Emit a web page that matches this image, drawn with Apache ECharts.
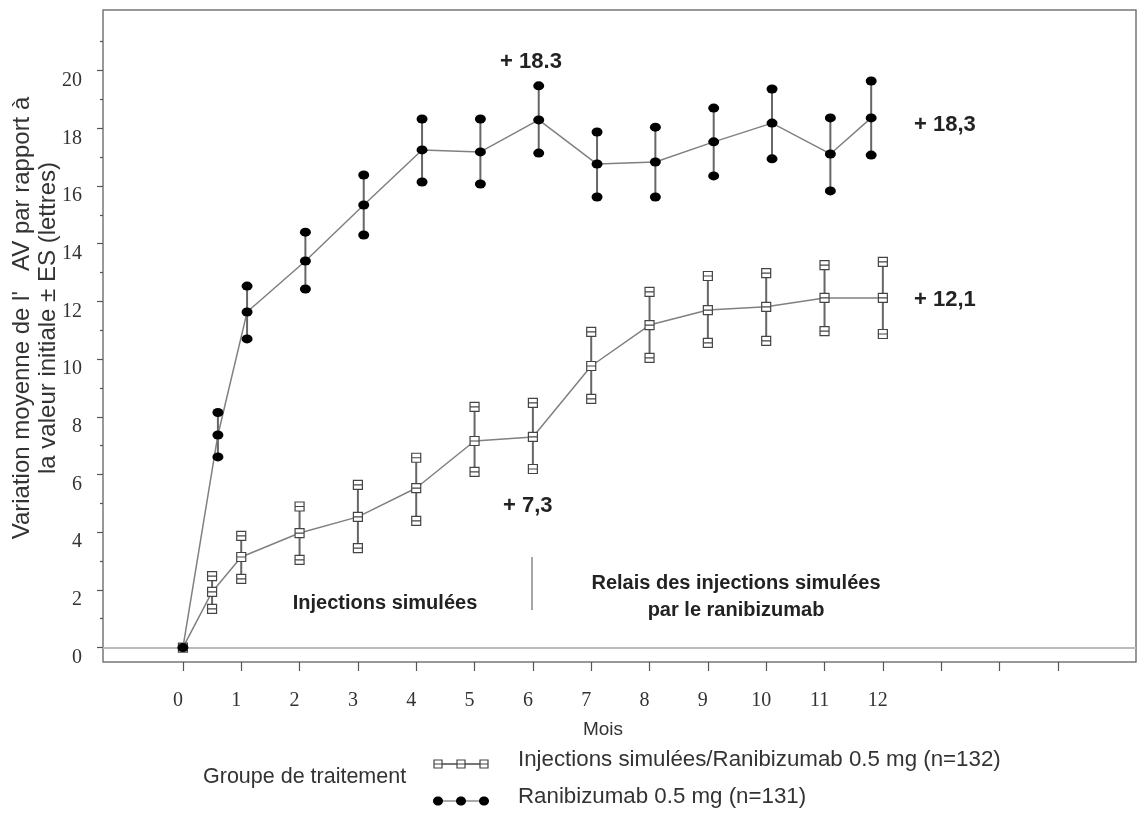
<!DOCTYPE html>
<html>
<head>
<meta charset="utf-8">
<script src="https://cdn.jsdelivr.net/npm/echarts@6/dist/echarts.min.js"></script>
<style>
html,body{margin:0;padding:0;background:#fff;}
#chart{width:1137px;height:813px;}
</style>
</head>
<body>
<div id="chart"></div>
<script>
// ---- data ----
const xTicks = [0,1,2,3,4,5,6,7,8,9,10,11,12,13,14,15];
const xTickLabels = [0,1,2,3,4,5,6,7,8,9,10,11,12];
const yTickMajor = [0,2,4,6,8,10,12,14,16,18,20];
const yTickMinor = [1,3,5,7,9,11,13,15,17,19,21];

// Injections simulées / Ranibizumab 0.5 mg (n=132)  (open squares)
const shamMonths = [0, 0.5, 1, 2, 3, 4, 5, 6, 7, 8, 9, 10, 11, 12];
const shamMean   = [0, 1.93, 3.14, 3.97, 4.53, 5.53, 7.16, 7.30, 9.76, 11.18, 11.70, 11.81, 12.12, 12.12];
const shamUpper  = [null, 2.48, 3.87, 4.89, 5.64, 6.58, 8.34, 8.48, 10.94, 12.33, 12.88, 12.98, 13.26, 13.37];
const shamLower  = [null, 1.34, 2.38, 3.04, 3.45, 4.39, 6.09, 6.19, 8.62, 10.04, 10.56, 10.63, 10.97, 10.87];

// Ranibizumab 0.5 mg (n=131)  (filled circles)
const raniMonths = [0, 0.6, 1.1, 2.1, 3.1, 4.1, 5.1, 6.1, 7.1, 8.1, 9.1, 10.1, 11.1, 11.8];
const raniMean   = [0, 7.37, 11.63, 13.40, 15.34, 17.25, 17.18, 18.29, 16.76, 16.83, 17.53, 18.18, 17.11, 18.36];
const raniUpper  = [null, 8.15, 12.53, 14.40, 16.38, 18.32, 18.32, 19.47, 17.87, 18.04, 18.70, 19.36, 18.36, 19.64];
const raniLower  = [null, 6.61, 10.70, 12.43, 14.30, 16.14, 16.07, 17.14, 15.62, 15.62, 16.35, 16.94, 15.83, 17.07];

const seriesNames = ['Injections simulées/Ranibizumab 0.5 mg (n=132)', 'Ranibizumab 0.5 mg (n=131)'];

// ---- helpers ----
function pairs(xs, ys){ return xs.map((x,i)=>[x, ys[i]]).filter(d=>d[1]!=null); }
function bars(xs, lo, hi){ return xs.map((x,i)=>[x, lo[i], hi[i]]).filter(d=>d[1]!=null); }
const SQUARE = 'path://M0,0H10V10H0Z M0,5H10';
const SANS = "'Liberation Sans', Arial, sans-serif";
const SERIF = "'Liberation Serif', 'Times New Roman', serif";

function errRender(params, api){
  const x = api.value(0), lo = api.value(1), hi = api.value(2);
  const p1 = api.coord([x, lo]), p2 = api.coord([x, hi]);
  return {type:'line', shape:{x1:p1[0], y1:p1[1], x2:p2[0], y2:p2[1]},
          style:{stroke:'#666', lineWidth:2}};
}

const squareStyle = {color:'#fff', borderColor:'#444', borderWidth:1.2, opacity:1};
const circleStyle = {color:'#000', opacity:1};

function txt(x, y, text, size, bold, align, extra){
  return Object.assign({type:'text', x:x, y:y, style:Object.assign({
    text:text, fontFamily:SANS, fontSize:size, fontWeight:bold?'bold':'normal',
    fill:bold?'#222':'#333', align:align, verticalAlign:'middle',
    textAlign:align, textVerticalAlign:'middle'}, extra||{})});
}

const chart = echarts.init(document.getElementById('chart'), null, {renderer:'canvas'});

const option = {
  animation:false,
  backgroundColor:'#fff',
  grid:{left:103, right:1, top:10, bottom:151, show:true, borderColor:'#777', borderWidth:1.5, backgroundColor:'transparent'},
  xAxis:{
    type:'value', min:-1.37, max:16.34,
    axisLine:{show:false, onZero:false}, splitLine:{show:false},
    axisTick:{show:true, length:9, customValues:xTicks, lineStyle:{color:'#555', width:1.2}},
    axisLabel:{customValues:xTickLabels, fontFamily:SERIF, fontSize:20, color:'#333', margin:29, padding:[0,10,0,0]}
  },
  yAxis:[{
    type:'value', min:-0.5, max:22.1,
    axisLine:{show:false, onZero:false}, splitLine:{show:false},
    axisTick:{show:true, length:6, customValues:yTickMajor, lineStyle:{color:'#555', width:1.2}},
    axisLabel:{customValues:yTickMajor, fontFamily:SERIF, fontSize:20, color:'#333', margin:21, verticalAlign:'top'}
  },{
    type:'value', min:-0.5, max:22.1, position:'left',
    axisLine:{show:false, onZero:false}, splitLine:{show:false},
    axisTick:{show:true, length:3, customValues:yTickMinor, lineStyle:{color:'#555', width:1.2}},
    axisLabel:{show:false}
  }],
  series:[
    {type:'custom', name:seriesNames[0]+' ES', renderItem:errRender, encode:{x:0, y:[1,2]},
     data:bars(shamMonths, shamLower, shamUpper), z:2, silent:true},
    {type:'custom', name:seriesNames[1]+' ES', renderItem:errRender, encode:{x:0, y:[1,2]},
     data:bars(raniMonths, raniLower, raniUpper), z:2, silent:true},
    {type:'line', name:seriesNames[0], data:pairs(shamMonths, shamMean), z:3,
     lineStyle:{color:'#808080', width:1.5}, symbol:SQUARE, symbolSize:9, itemStyle:squareStyle,
     markLine:{silent:true, symbol:'none', label:{show:false}, z:1,
               lineStyle:{color:'#bbb', width:2, type:'solid'}, data:[{yAxis:0}]}},
    {type:'scatter', name:seriesNames[0]+' +ES', data:pairs(shamMonths, shamUpper), z:4,
     symbol:SQUARE, symbolSize:9, itemStyle:squareStyle},
    {type:'scatter', name:seriesNames[0]+' -ES', data:pairs(shamMonths, shamLower), z:4,
     symbol:SQUARE, symbolSize:9, itemStyle:squareStyle},
    {type:'line', name:seriesNames[1], data:pairs(raniMonths, raniMean), z:5,
     lineStyle:{color:'#808080', width:1.5}, symbol:'circle', symbolSize:[11,9], itemStyle:circleStyle},
    {type:'scatter', name:seriesNames[1]+' +ES', data:pairs(raniMonths, raniUpper), z:5,
     symbol:'circle', symbolSize:[11,9], itemStyle:circleStyle},
    {type:'scatter', name:seriesNames[1]+' -ES', data:pairs(raniMonths, raniLower), z:5,
     symbol:'circle', symbolSize:[11,9], itemStyle:circleStyle}
  ],
  graphic:[
    // y axis title
    Object.assign(txt(35, 318, "Variation moyenne de l'   AV par rapport à\nla valeur initiale ± ES (lettres)", 24, false, 'center', {lineHeight:26}), {rotation:Math.PI/2}),
    // x axis title
    txt(603, 730, 'Mois', 19, false, 'center'),
    // annotations
    txt(531, 62, '+ 18.3', 22, true, 'center'),
    txt(914, 125, '+ 18,3', 22, true, 'left'),
    txt(914, 300, '+ 12,1', 22, true, 'left'),
    txt(503, 506, '+ 7,3', 22, true, 'left'),
    txt(385, 603, 'Injections simulées', 20, true, 'center'),
    txt(736, 597, 'Relais des injections simulées\npar le ranibizumab', 20, true, 'center', {lineHeight:27}),
    {type:'line', shape:{x1:532, y1:557, x2:532, y2:610}, style:{stroke:'#888', lineWidth:1.5}},
    // legend
    txt(203, 777, 'Groupe de traitement', 21.5, false, 'left'),
    txt(518, 760, seriesNames[0], 22.3, false, 'left'),
    txt(518, 797, seriesNames[1], 22.3, false, 'left'),
    {type:'line', shape:{x1:434, y1:764, x2:488, y2:764}, style:{stroke:'#555', lineWidth:1.2}},
    {type:'rect', shape:{x:434, y:760, width:8, height:8}, style:{fill:'#fff', stroke:'#444', lineWidth:1.2}},
    {type:'rect', shape:{x:457, y:760, width:8, height:8}, style:{fill:'#fff', stroke:'#444', lineWidth:1.2}},
    {type:'rect', shape:{x:480, y:760, width:8, height:8}, style:{fill:'#fff', stroke:'#444', lineWidth:1.2}},
    {type:'line', shape:{x1:434, y1:764, x2:488, y2:764}, style:{stroke:'#444', lineWidth:1}},
    {type:'line', shape:{x1:438, y1:801, x2:484, y2:801}, style:{stroke:'#555', lineWidth:1.2}},
    {type:'ellipse', shape:{cx:438, cy:801, rx:5, ry:4.5}, style:{fill:'#000'}},
    {type:'ellipse', shape:{cx:461, cy:801, rx:5, ry:4.5}, style:{fill:'#000'}},
    {type:'ellipse', shape:{cx:484, cy:801, rx:5, ry:4.5}, style:{fill:'#000'}}
  ]
};
chart.setOption(option);
</script>
</body>
</html>
